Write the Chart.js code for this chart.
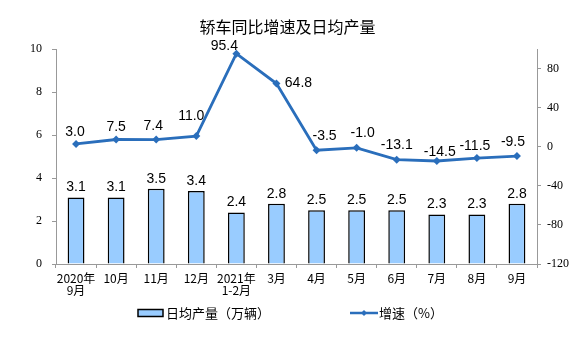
<!DOCTYPE html>
<html><head><meta charset="utf-8">
<script src="https://cdn.jsdelivr.net/npm/chart.js@4/dist/chart.umd.min.js"></script>
<style>html,body{margin:0;padding:0;background:#fff}#wrap{width:575px;height:357px}</style>
</head><body><div id="wrap"><canvas id="c"></canvas></div>
<script>
const categories = [["2020年","9月"],"10月","11月","12月",["2021年","1-2月"],"3月","4月","5月","6月","7月","8月","9月"];
const dailyOutput = [3.1,3.1,3.5,3.4,2.4,2.8,2.5,2.5,2.5,2.3,2.3,2.8];
const growthRate = [3.0,7.5,7.4,11.0,95.4,64.8,-3.5,-1.0,-13.1,-14.5,-11.5,-9.5];
const leftTicks = [0,2,4,6,8,10];
const rightTicks = [-120,-80,-40,0,40,80];
const titleText = "轿车同比增速及日均产量";
const legendBar = "日均产量（万辆）";
const legendLine = "增速（%）";

const LINE_COLOR = "#2A6EBB";
const BAR_FILL = "#99CCFF";
const lineLabelOffsets = [[-1,-12],[0,-12],[-3,-13],[-5,-20],[-12,-8],[22,0],[8,-14],[6,-15],[0,-14],[3,-9],[-2,-12],[-4,-14]];

const labelPlugin = {
  id: 'valueLabels',
  afterDatasetsDraw(chart) {
    const ctx = chart.ctx;
    ctx.save();
    ctx.fillStyle = '#000';
    ctx.textAlign = 'center';
    ctx.textBaseline = 'middle';
    ctx.font = '14px "Liberation Sans", Arial, sans-serif';
    const barMeta = chart.getDatasetMeta(0);
    barMeta.data.forEach((el, i) => {
      ctx.fillText(chart.data.datasets[0].data[i].toFixed(1), el.x, el.y - 10);
    });
    const lineMeta = chart.getDatasetMeta(1);
    lineMeta.data.forEach((el, i) => {
      const o = lineLabelOffsets[i];
      ctx.fillText(chart.data.datasets[1].data[i].toFixed(1), el.x + o[0], el.y + o[1]);
    });
    ctx.restore();
  }
};

const legendPlugin = {
  id: 'customLegend',
  afterDraw(chart) {
    const ctx = chart.ctx;
    ctx.save();
    const y = 313;
    ctx.fillStyle = BAR_FILL;
    ctx.strokeStyle = '#000';
    ctx.lineWidth = 1.5;
    ctx.fillRect(138, y - 3.5, 25, 7);
    ctx.strokeRect(138, y - 3.5, 25, 7);
    ctx.fillStyle = '#000';
    ctx.font = '13px "Noto Sans CJK SC", sans-serif';
    ctx.textBaseline = 'middle';
    ctx.textAlign = 'left';
    ctx.fillText(legendBar, 166, y);
    ctx.strokeStyle = LINE_COLOR;
    ctx.lineWidth = 2.5;
    ctx.beginPath(); ctx.moveTo(350, y); ctx.lineTo(378, y); ctx.stroke();
    ctx.fillStyle = LINE_COLOR;
    ctx.beginPath(); ctx.moveTo(364, y - 3); ctx.lineTo(367, y); ctx.lineTo(364, y + 3); ctx.lineTo(361, y); ctx.closePath(); ctx.fill();
    ctx.fillStyle = '#000';
    ctx.fillText(legendLine, 379, y);
    ctx.restore();
  }
};

new Chart(document.getElementById('c'), {
  data: {
    labels: categories,
    datasets: [
      { type: 'bar', label: legendBar, data: dailyOutput, yAxisID: 'y', backgroundColor: BAR_FILL, borderColor: '#000', borderWidth: 1.5, barPercentage: 0.42, categoryPercentage: 1.0, order: 2 },
      { type: 'line', label: legendLine, data: growthRate, yAxisID: 'y1', borderColor: LINE_COLOR, backgroundColor: LINE_COLOR, borderWidth: 2.8, pointStyle: 'rectRot', pointRadius: 4, pointBorderWidth: 0, tension: 0, order: 1 }
    ]
  },
  options: {
    responsive: true, maintainAspectRatio: false, animation: false,
    layout: { padding: { left: 0, right: 0, top: 0, bottom: 57 } },
    plugins: {
      legend: { display: false },
      tooltip: { enabled: false },
      title: { display: true, text: titleText, color: '#000', font: { size: 16, family: '"Noto Sans CJK SC", sans-serif', weight: 'normal', lineHeight: 1.2 }, padding: { top: 17, bottom: 13 } }
    },
    scales: {
      x: {
        offset: true,
        grid: { display: true, drawOnChartArea: false, offset: true, tickLength: 4, color: '#999' },
        border: { display: true, color: '#999', width: 1 },
        ticks: { color: '#000', font: { size: 12, family: '"Noto Sans CJK SC", sans-serif', lineHeight: 1.0 }, padding: 4, maxRotation: 0, autoSkip: false },
        afterFit(s) { s.height = 36; }
      },
      y: {
        position: 'left', min: 0, max: 10,
        afterBuildTicks(s) { s.ticks = leftTicks.map(v => ({ value: v })); },
        grid: { display: true, drawOnChartArea: false, tickLength: 4, color: '#999' },
        border: { display: true, color: '#999', width: 1 },
        ticks: { color: '#000', font: { size: 12, family: '"Liberation Serif", serif' }, padding: 10 },
        afterFit(s) { s.width = 56; }
      },
      y1: {
        position: 'right', min: -120, max: 100,
        afterBuildTicks(s) { s.ticks = rightTicks.map(v => ({ value: v })); },
        grid: { display: true, drawOnChartArea: false, tickLength: 4, color: '#999' },
        border: { display: true, color: '#999', width: 1 },
        ticks: { color: '#000', font: { size: 12, family: '"Liberation Serif", serif' }, padding: 6 },
        afterFit(s) { s.width = 38; }
      }
    }
  },
  plugins: [labelPlugin, legendPlugin]
});
</script></body></html>
